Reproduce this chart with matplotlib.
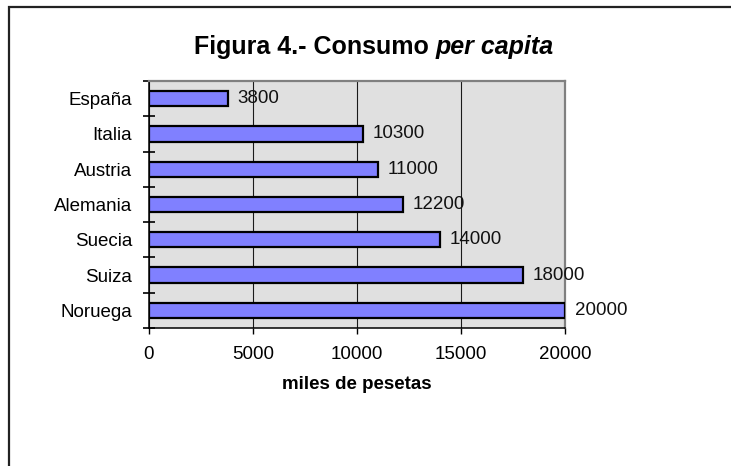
import matplotlib

matplotlib.use("Agg")
import matplotlib.pyplot as plt
from matplotlib.patches import Rectangle
from matplotlib.ticker import FixedLocator

plt.rcParams["font.family"] = ["Liberation Sans", "DejaVu Sans"]

# Consumo per capita, miles de pesetas (top to bottom as drawn)
paises = ["España", "Italia", "Austria", "Alemania", "Suecia", "Suiza", "Noruega"]
consumo = [3800, 10300, 11000, 12200, 14000, 18000, 20000]
x_ticks = [0, 5000, 10000, 15000, 20000]

W, H = 731, 466
fig = plt.figure(figsize=(W / 100, H / 100), dpi=100)
ax = fig.add_axes([149 / W, 1 - 328 / H, (565 - 149) / W, (328 - 81) / H])

ypos = list(range(len(paises)))
ax.barh(ypos, consumo, height=0.43, color="#8080FF", edgecolor="black",
        linewidth=1.6, zorder=3)
for y, v in zip(ypos, consumo):
    ax.annotate(str(v), (v, y), xytext=(7, 0), textcoords="offset points",
                ha="left", va="center", fontsize=13.5, color="#111111", zorder=4)

ax.set_facecolor("#E0E0E0")
ax.set_xlim(x_ticks[0], x_ticks[-1])
ax.set_ylim(len(paises) - 0.5, -0.5)
ax.set_xticks(x_ticks)
ax.set_xticklabels([str(t) for t in x_ticks], fontsize=13.5)
ax.set_yticks(ypos)
ax.set_yticklabels(paises, fontsize=13.5)
ax.yaxis.set_minor_locator(FixedLocator([i - 0.5 for i in range(len(paises) + 1)]))
ax.tick_params(axis="y", which="major", length=0, pad=12)
ax.tick_params(axis="y", which="minor", direction="inout", length=9, width=1.2)
ax.tick_params(axis="x", direction="out", length=4, width=1, pad=9)
ax.grid(axis="x", color="#1a1a1a", linewidth=0.8, zorder=1)

for side in ("top", "right"):
    ax.spines[side].set_color("#808080")
    ax.spines[side].set_linewidth(1.6)
for side in ("left", "bottom"):
    ax.spines[side].set_color("black")
    ax.spines[side].set_linewidth(1.1)

ax.set_xlabel("miles de pesetas", fontsize=13.5, fontweight="bold", labelpad=9)

# title with the italic part drawn as a second piece
renderer = fig.canvas.get_renderer()
t1 = fig.text(0, 1 - 54 / H, "Figura 4.- Consumo ", fontsize=18,
              fontweight="bold", ha="left", va="baseline")
t2 = fig.text(0, 1 - 54 / H, "per capita", fontsize=18, fontweight="bold",
              style="italic", ha="left", va="baseline")
w1 = t1.get_window_extent(renderer).width
w2 = t2.get_window_extent(renderer).width
x0 = 374 - (w1 + w2) / 2
t1.set_x(x0 / W)
t2.set_x((x0 + w1) / W)

# page frame: left and top edges only fall inside the image
fig.patches.append(Rectangle((9 / W, -0.05), 1.1, 1.05 - 7 / H,
                             transform=fig.transFigure, fill=False,
                             edgecolor="#222222", linewidth=1.6))

fig.savefig("out.png", dpi=100)
